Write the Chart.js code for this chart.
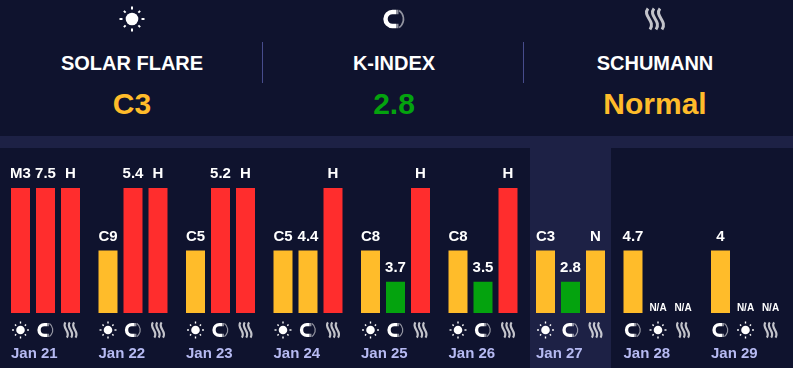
<!DOCTYPE html>
<html>
<head>
<meta charset="utf-8">
<script src="https://cdn.jsdelivr.net/npm/chart.js@4"></script>
<style>
	html, body { margin: 0; padding: 0; width: 793px; height: 368px; overflow: hidden; background: #0f132e; font-family: 'Liberation Sans', Arial, sans-serif; font-weight: bold; }
	#band { position: absolute; left: 0; top: 136px; width: 793px; height: 12px; background: #1d2145; }
	.divider { position: absolute; top: 42px; width: 1px; height: 41px; background: #474c8c; }
	.head { position: absolute; top: 0; width: 262px; text-align: center; }
	.head .title { position: absolute; top: 51px; width: 100%; font-size: 20px; line-height: 24px; color: #fff; }
	.head .value { position: absolute; top: 86px; width: 100%; font-size: 30px; line-height: 36px; }
	canvas { position: absolute; left: 0; top: 0; }
</style>
</head>
<body>
<div id="band"></div>
<div class="divider" style="left: 262px"></div>
<div class="divider" style="left: 523px"></div>
<div class="head" style="left: 1px"><div class="title">SOLAR FLARE</div><div class="value" style="color: #ffbc2a">C3</div></div>
<div class="head" style="left: 263px"><div class="title">K-INDEX</div><div class="value" style="color: #04a30e">2.8</div></div>
<div class="head" style="left: 524px"><div class="title">SCHUMANN</div><div class="value" style="color: #ffbc2a">Normal</div></div>
<canvas id="myChart" width="793" height="368"></canvas>
<script>
//days on the X axis
let days = ['Jan 21', 'Jan 22', 'Jan 23', 'Jan 24', 'Jan 25', 'Jan 26', 'Jan 27', 'Jan 28', 'Jan 29']

//bar height (percent of the full bar) for each of the three slots of a day
let slot1Values = [100, 50, 50, 50, 50, 50, 50, 50, 50]
let slot2Values = [100, 100, 100, 50, 25, 25, 25, null, null]
let slot3Values = [100, 100, 100, 100, 100, 100, 50, null, null]

//text above the bars
let slot1Labels = ['M3', 'C9', 'C5', 'C5', 'C8', 'C8', 'C3', '4.7', '4']
let slot2Labels = ['7.5', '5.4', '5.2', '4.4', '3.7', '3.5', '2.8', 'N/A', 'N/A']
let slot3Labels = ['H', 'H', 'H', 'H', 'H', 'H', 'N', 'N/A', 'N/A']

//icon under each bar
let slot1Icons = ['sun', 'sun', 'sun', 'sun', 'sun', 'sun', 'sun', 'magnet', 'magnet']
let slot2Icons = ['magnet', 'magnet', 'magnet', 'magnet', 'magnet', 'magnet', 'magnet', 'sun', 'sun']
let slot3Icons = ['waves', 'waves', 'waves', 'waves', 'waves', 'waves', 'waves', 'waves', 'waves']

let todayIndex = 6

let slotLabels = [slot1Labels, slot2Labels, slot3Labels]
let slotIcons = [slot1Icons, slot2Icons, slot3Icons]

//color goes with the height
function barColor(context) {
	let value = context.raw
	if (value >= 100) return '#ff2d2d'
	if (value >= 50) return '#ffbc2a'
	return '#04a30e'
}

function drawSun(ctx, x, y, size) {
	let k = size / 25
	ctx.fillStyle = '#fff'
	ctx.strokeStyle = '#fff'
	ctx.beginPath()
	ctx.arc(x, y, 6.3 * k, 0, Math.PI * 2)
	ctx.fill()
	ctx.lineWidth = 2 * k
	for (let i = 0; i < 8; i++) {
		let a = (i * Math.PI) / 4
		let r1 = i % 2 ? 9 : 9.5
		let r2 = i % 2 ? 11.5 : 12.5
		ctx.beginPath()
		ctx.moveTo(x + Math.cos(a) * r1 * k, y + Math.sin(a) * r1 * k)
		ctx.lineTo(x + Math.cos(a) * r2 * k, y + Math.sin(a) * r2 * k)
		ctx.stroke()
	}
}

function drawMagnet(ctx, x, y, size) {
	let k = size / 25
	ctx.strokeStyle = '#fff'
	ctx.lineWidth = 4.4 * k
	ctx.beginPath()
	ctx.moveTo(x + 2 * k, y - 7 * k)
	ctx.lineTo(x - 1.5 * k, y - 7 * k)
	ctx.arc(x - 1.5 * k, y, 7 * k, -Math.PI / 2, Math.PI / 2, true)
	ctx.lineTo(x + 2 * k, y + 7 * k)
	ctx.stroke()
	//grey tips of the magnet
	ctx.strokeStyle = 'rgba(255,255,255,0.55)'
	ctx.beginPath()
	ctx.moveTo(x + 2 * k, y - 7 * k)
	ctx.lineTo(x + 4.5 * k, y - 7 * k)
	ctx.moveTo(x + 2 * k, y + 7 * k)
	ctx.lineTo(x + 4.5 * k, y + 7 * k)
	ctx.stroke()
	//the thin field line on the open side
	ctx.lineWidth = 1.6 * k
	ctx.beginPath()
	ctx.arc(x - 1 * k, y, 10.5 * k, -Math.PI * 0.3, Math.PI * 0.3)
	ctx.stroke()
}

function drawWaves(ctx, x, y, size) {
	let k = size / 25
	ctx.strokeStyle = 'rgba(255,255,255,0.75)'
	ctx.lineWidth = 3 * k
	for (let i = -1; i <= 1; i++) {
		let cx = x + i * 6 * k
		ctx.beginPath()
		ctx.moveTo(cx - 1 * k, y - 10.5 * k)
		ctx.bezierCurveTo(cx - 7 * k, y - 3 * k, cx + 7 * k, y + 2 * k, cx + 1 * k, y + 10.5 * k)
		ctx.stroke()
	}
}

let iconDrawers = { sun: drawSun, magnet: drawMagnet, waves: drawWaves }
let smallIconSizes = { sun: 17, magnet: 19, waves: 18 }

//background column behind today
let todayColumn = {
	id: 'todayColumn',
	beforeDraw: (chart) => {
		let ctx = chart.ctx
		let center = chart.scales.x.getPixelForTick(todayIndex)
		ctx.save()
		ctx.fillStyle = '#1d2145'
		ctx.fillRect(center - 40.5, 148, 81, 220)
		ctx.restore()
	}
}

//value text over the bars and icon under them
let barDecorations = {
	id: 'barDecorations',
	afterDraw: (chart) => {
		let ctx = chart.ctx
		let bottom = chart.scales.y.getPixelForValue(0)
		ctx.save()
		chart.data.datasets.forEach((dataset, slot) => {
			let meta = chart.getDatasetMeta(slot)
			meta.data.forEach((bar, i) => {
				let text = slotLabels[slot][i]
				let barTop = dataset.data[i] === null ? bottom : bar.y
				ctx.textAlign = 'center'
				ctx.textBaseline = 'alphabetic'
				ctx.fillStyle = '#fff'
				if (text === 'N/A') {
					ctx.font = 'bold 10px "Liberation Sans"'
					ctx.fillText(text, bar.x, barTop - 2)
				} else {
					ctx.font = 'bold 15px "Liberation Sans"'
					ctx.fillText(text, bar.x, barTop - 10)
				}
				let icon = slotIcons[slot][i]
				iconDrawers[icon](ctx, bar.x, 330, smallIconSizes[icon])
			})
		})
		//big icons of the header
		drawSun(ctx, 132, 19, 25)
		drawMagnet(ctx, 394, 19, 25)
		drawWaves(ctx, 655, 19, 25)
		ctx.restore()
	}
}

let config = {
	type: 'bar',
	data: {
		labels: days,
		datasets: [
			{ data: slot1Values, backgroundColor: barColor },
			{ data: slot2Values, backgroundColor: barColor },
			{ data: slot3Values, backgroundColor: barColor }
		]
	},
	options: {
		responsive: false,
		animation: false,
		categoryPercentage: 75 / 87.5,
		barPercentage: 19 / 25,
		layout: {
			padding: { left: 1.75, right: 3.75, top: 188, bottom: 0 }
		},
		plugins: {
			legend: { display: false },
			tooltip: { enabled: false }
		},
		scales: {
			x: {
				grid: { display: false },
				border: { display: false },
				afterFit: (scale) => {
					//no extra room for the shifted labels
					scale.height = 55
					scale.paddingLeft = 0
					scale.paddingRight = 0
				},
				ticks: {
					autoSkip: false,
					maxRotation: 0,
					align: 'start',
					labelOffset: -34.5,
					padding: 24,
					color: '#b6baf2',
					font: { family: 'Liberation Sans', size: 15, weight: 'bold' }
				}
			},
			y: {
				display: false,
				min: 0,
				max: 100
			}
		}
	},
	plugins: [todayColumn, barDecorations]
}

let chart = new Chart(document.getElementById('myChart').getContext('2d'), config)
</script>
</body>
</html>
